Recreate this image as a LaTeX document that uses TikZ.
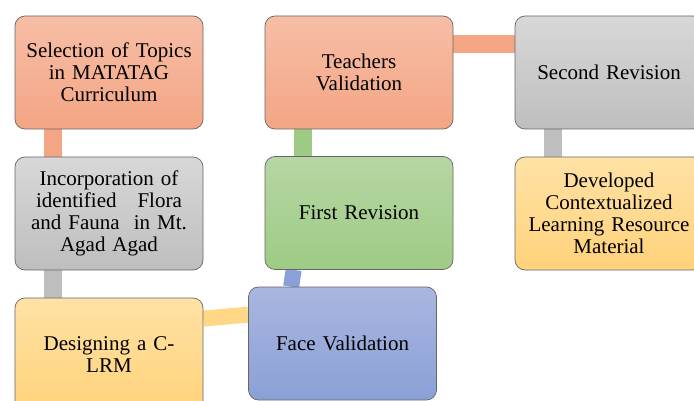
\documentclass[tikz,border=0pt]{standalone}
\usepackage{fontspec}
\setmainfont{Liberation Serif}
\usepackage{xcolor}
\definecolor{stepred}{RGB}{244, 165, 132}
\definecolor{stepredtop}{RGB}{246, 190, 166}
\definecolor{stepgray}{RGB}{190, 190, 190}
\definecolor{stepgraytop}{RGB}{216, 216, 216}
\definecolor{stepyellow}{RGB}{255, 210, 122}
\definecolor{stepyellowtop}{RGB}{255, 226, 166}
\definecolor{stepgreen}{RGB}{158, 203, 132}
\definecolor{stepgreentop}{RGB}{182, 214, 164}
\definecolor{stepblue}{RGB}{138, 160, 214}
\definecolor{stepbluetop}{RGB}{170, 182, 224}
\usetikzlibrary{positioning,backgrounds}

\begin{document}
\begin{tikzpicture}[x=1pt, y=-1pt,
    stepbox/.style={draw=black!60, line width=0.7pt, rounded corners=10pt,
        minimum width=188pt, minimum height=113pt, text width=178pt,
        align=center, font=\fontsize{21}{22}\selectfont},
    link/.style={line width=18pt, draw=#1}]
    \useasboundingbox (0,0) rectangle (694,401);
    \clip (0,0) rectangle (694,401);

    % left column
    \node[stepbox, top color=stepredtop, bottom color=stepred] (sel) at (109, 72.5)
        {Selection of Topics\\ in MATATAG\\ Curriculum};
    \node[stepbox, top color=stepgraytop, bottom color=stepgray] (inc) at (109, 213.5)
        {Incorporation of\\ identified~~ Flora\\ and Fauna~ in Mt.\\ Agad Agad};
    \node[stepbox, top color=stepyellowtop, bottom color=stepyellow] (des) at (109, 354.5)
        {Designing a C-\\ LRM};

    % middle column
    \node[stepbox, top color=stepbluetop, bottom color=stepblue] (face) at (342.5, 343.5)
        {Face Validation};
    \node[stepbox, top color=stepgreentop, bottom color=stepgreen] (first) at (359, 213)
        {First Revision};
    \node[stepbox, top color=stepredtop, bottom color=stepred] (teach) at (359, 72.5)
        {Teachers\\ Validation};

    % right column
    \node[stepbox, top color=stepgraytop, bottom color=stepgray] (second) at (609, 72.5)
        {Second Revision};
    \node[stepbox, top color=stepyellowtop, bottom color=stepyellow] (dev) at (609, 213.5)
        {Developed\\ Contextualized\\ Learning Resource\\ Material};

    % connectors
    \begin{scope}[on background layer]
        \draw[link=stepred] ([xshift=38pt]sel.south west) -- ([xshift=38pt]inc.north west);
        \draw[link=stepgray] ([xshift=38pt]inc.south west) -- ([xshift=38pt]des.north west);
        \draw[link=stepyellow!90, line width=16pt] ([yshift=-21pt]des.north east) -- ([yshift=-28pt]face.north west);
        \draw[link=stepblue, line width=16pt] ([xshift=43pt]face.north west) -- ([xshift=29pt]first.south west);
        \draw[link=stepgreen] ([xshift=38pt]first.north west) -- ([xshift=38pt]teach.south west);
        \draw[link=stepred] ([yshift=-28pt]teach.north east) -- ([yshift=-28pt]second.north west);
        \draw[link=stepgray] ([xshift=38pt]second.south west) -- ([xshift=38pt]dev.north west);
    \end{scope}
\end{tikzpicture}
\end{document}
